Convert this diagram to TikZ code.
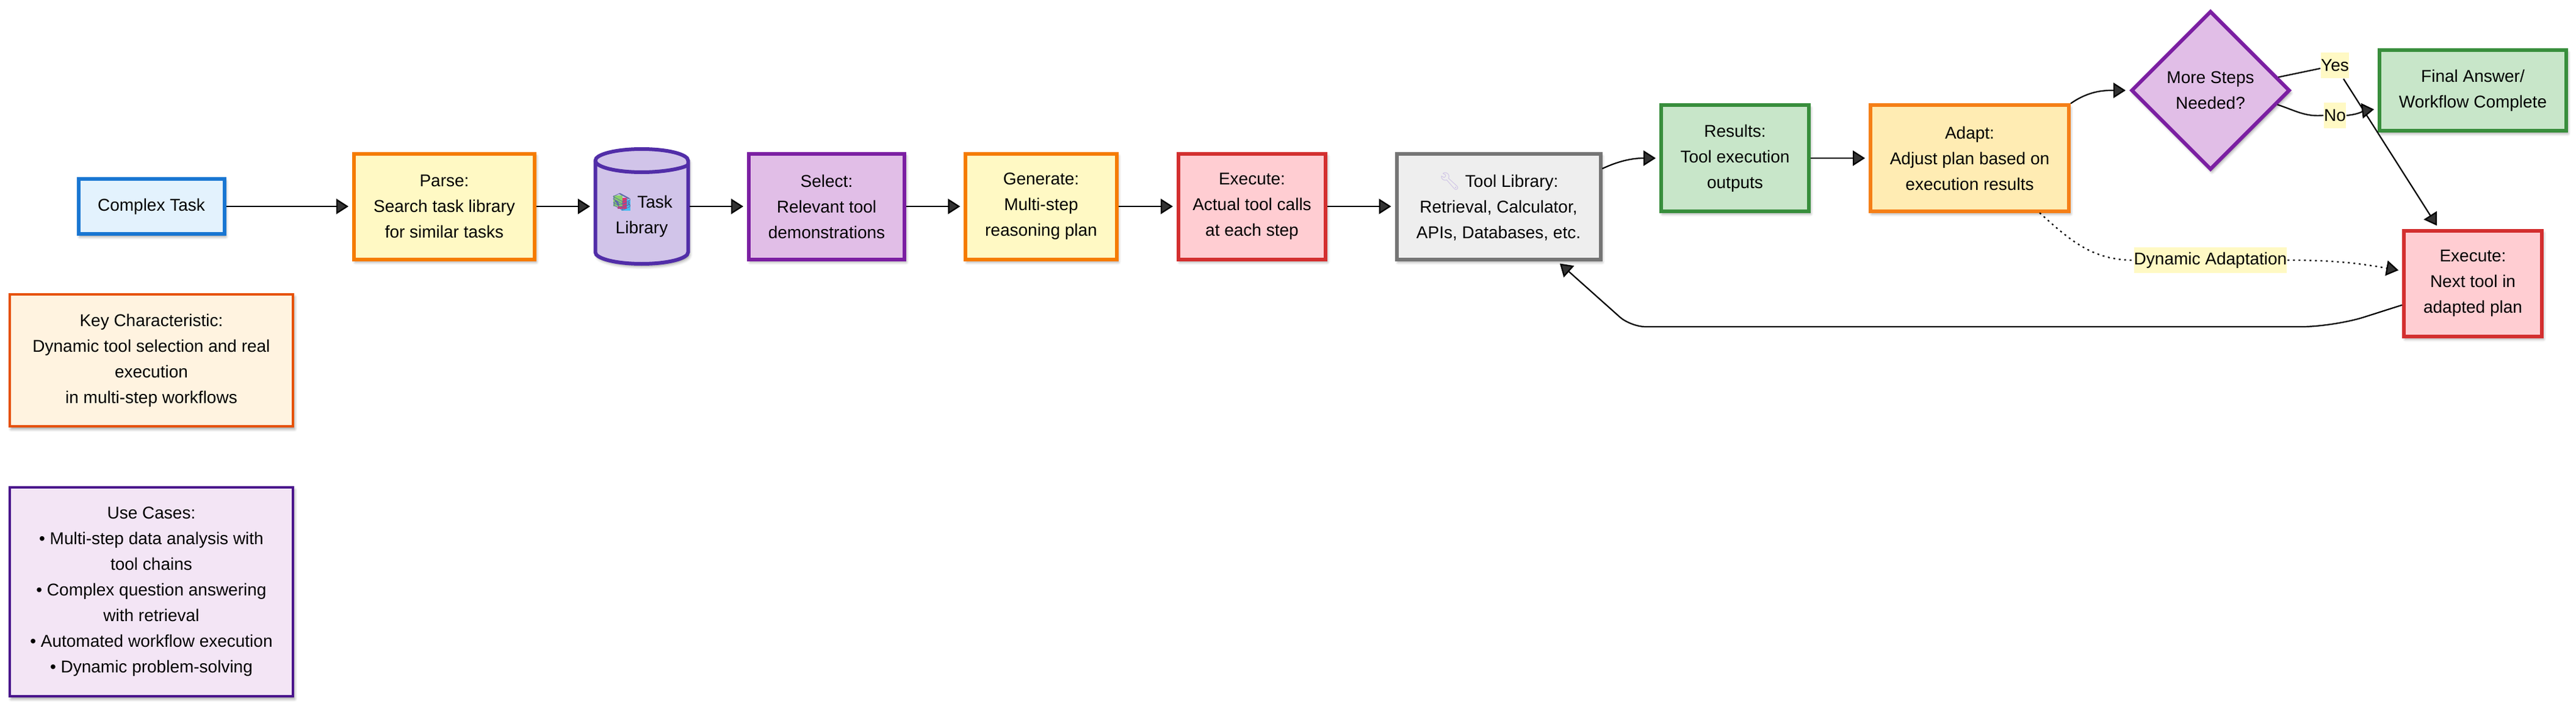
\documentclass[tikz,border=0pt]{standalone}
\usepackage{fontspec}
\setmainfont{Liberation Sans}
\newfontfamily\emojifont{Noto Emoji}
\usetikzlibrary{positioning, arrows.meta, shapes.geometric, shadows.blur}

\definecolor{taskfill}{HTML}{E3F2FD}    \definecolor{taskline}{HTML}{1976D2}
\definecolor{parsefill}{HTML}{FFF9C4}   \definecolor{parseline}{HTML}{F57C00}
\definecolor{libfill}{HTML}{D1C4E9}     \definecolor{libline}{HTML}{512DA8}
\definecolor{selectfill}{HTML}{E1BEE7}  \definecolor{selectline}{HTML}{7B1FA2}
\definecolor{execfill}{HTML}{FFCDD2}    \definecolor{execline}{HTML}{D32F2F}
\definecolor{toolfill}{HTML}{EEEEEE}    \definecolor{toolline}{HTML}{757575}
\definecolor{resfill}{HTML}{C8E6C9}     \definecolor{resline}{HTML}{388E3C}
\definecolor{adaptfill}{HTML}{FFECB3}   \definecolor{adaptline}{HTML}{F57F17}
\definecolor{keyfill}{HTML}{FFF3E0}     \definecolor{keyline}{HTML}{E65100}
\definecolor{usefill}{HTML}{F3E5F5}     \definecolor{useline}{HTML}{4A148C}
\definecolor{wrenchcol}{HTML}{CFC3E6}
\definecolor{bookgreen}{HTML}{8BD16A}   \definecolor{bookpink}{HTML}{E0336F}
\definecolor{bookblue}{HTML}{45BDF2}    \definecolor{bookedge}{HTML}{5C6BA8}

\tikzset{
    softshadow/.style={blur shadow={shadow xshift=1.2pt, shadow yshift=-2.2pt, shadow blur radius=2.5pt, shadow opacity=40}},
    flowbox/.style={draw, rectangle, line width=3pt, minimum height=86.5pt, inner sep=0pt, align=center,
        font=\fontsize{14}{21}\selectfont, softshadow},
    notebox/.style={flowbox, line width=2pt},
    flowlabel/.style={fill=parsefill, inner sep=0pt, minimum height=21pt, font=\fontsize{14}{21}\selectfont},
    canrim/.style={x radius=38pt, y radius=9.5pt}
}

\begin{document}
\begin{tikzpicture}[shorten >=3pt, on grid, >={Triangle[length=10pt, width=12.5pt]}, line width=1.1pt]
    \useasboundingbox (0,0) rectangle (2110.5pt,-578pt);
    \node[flowbox, fill=taskfill, draw=taskline, minimum width=119.5pt, minimum height=45pt] (task) at (124pt,-169pt) {Complex Task};
    \node[flowbox, fill=parsefill, draw=parseline, minimum width=148pt] (parse) [right=240pt of task] {Parse:\\Search task library\\for similar tasks};
    % the can is drawn by hand round an empty node
    \node[minimum width=78.6pt, minimum height=96.6pt, inner sep=0pt, outer sep=0pt] (lib) [right=161.75pt of parse] {};
    \draw[draw=libline, fill=libfill, line width=3pt, softshadow] ([shift={(-38pt,37.5pt)}]lib.center) arc[start angle=180, end angle=0, canrim]
        -- ([shift={(38pt,-37.5pt)}]lib.center) arc[start angle=0, end angle=-180, canrim] -- cycle;
    \draw[draw=libline, line width=3pt] ([shift={(-38pt,37.5pt)}]lib.center) arc[start angle=180, end angle=360, canrim];
    \foreach \bookcol/\bookx/\booky in {bookblue/-16.75/5.75, bookpink/-19.75/7.25, bookgreen/-23.25/9.25}
        \fill[\bookcol] ([shift={(\bookx pt,\booky pt)}]lib.center) rectangle ++(7.5pt,-9pt);
    \node[align=center, inner sep=0pt, font=\fontsize{14}{21}\selectfont] (libtext) [below=7.5pt of lib] {{\emojifont\color{bookedge} 📚} Task\\Library};
    \node[flowbox, fill=selectfill, draw=selectline, minimum width=127.5pt] (select) [right=151.5pt of lib] {Select:\\Relevant tool\\demonstrations};
    \node[flowbox, fill=parsefill, draw=parseline, minimum width=123.7pt] (generate) [right=175.75pt of select] {Generate:\\Multi-step\\reasoning plan};
    \node[flowbox, fill=execfill, draw=execline, minimum width=120.6pt] (exec) [right=172.75pt of generate] {Execute:\\Actual tool calls\\at each step};
    \node[flowbox, fill=toolfill, draw=toolline, minimum width=167pt] (tools) [right=202pt of exec] {{\emojifont\color{wrenchcol} 🔧} Tool Library:\\Retrieval, Calculator,\\APIs, Databases, etc.};
    \node[flowbox, fill=resfill, draw=resline, minimum width=121pt] (results) [above right=39.5pt and 193.75pt of tools] {Results:\\Tool execution\\outputs};
    \node[flowbox, fill=adaptfill, draw=adaptline, minimum width=162.5pt] (adapt) [right=192.25pt of results] {Adapt:\\Adjust plan based on\\execution results};
    \node[diamond, draw=selectline, fill=selectfill, line width=3pt, aspect=1, minimum width=130pt, minimum height=130pt, inner sep=0pt, align=center,
        font=\fontsize{14}{21}\selectfont, softshadow] (check) [above right=55.5pt and 197.25pt of adapt] {More Steps\\Needed?};
    \node[flowbox, fill=resfill, draw=resline, minimum width=153pt, minimum height=66pt] (final) [right=215pt of check] {Final Answer/\\Workflow Complete};
    \node[flowbox, fill=execfill, draw=execline, minimum width=113pt] (next) [below=158pt of final] {Execute:\\Next tool in\\adapted plan};
    \node[notebox, fill=keyfill, draw=keyline, minimum width=232pt, minimum height=108pt] (key) [below=126pt of task] {Key Characteristic:\\Dynamic tool selection and real\\execution\\in multi-step workflows};
    \node[notebox, fill=usefill, draw=useline, minimum width=232pt, minimum height=171pt] (uses) [below=189.5pt of key] {Use Cases:\\• Multi-step data analysis with\\tool chains\\• Complex question answering\\with retrieval\\• Automated workflow execution\\• Dynamic problem-solving};
    \coordinate (backright) at (1912pt,-267.5pt);
    \coordinate (backleft) at (1336pt,-267.5pt);

    \path[->]
        (task)      edge (parse)
        (parse)     edge (lib)
        (lib)       edge (select)
        (select)    edge (generate)
        (generate)  edge (exec)
        (exec)      edge (tools)
        (tools.20)  edge [out=25, in=180] (results)
        (results)   edge (adapt)
        (adapt.north east) edge [out=35, in=180] (check);
    \draw[->, rounded corners=26pt] (next.197) -- (backright) [rounded corners=12pt] -- (backleft) -- (tools.-43);

    \node[flowlabel] (yes) [above right=20.5pt and 102pt of check] {Yes};
    \node[flowlabel] (no) [below right=20.5pt and 102pt of check] {No};
    \node[flowlabel] (dyn) [below=139pt of check] {Dynamic Adaptation};
    \draw[shorten >=0pt] (check.11) -- (yes);
    \draw[->] (yes) -- (next.122);
    \draw[shorten >=0pt] (check.-12) to[out=-18, in=185] (no.west);
    \draw[->] (no.east) to[out=5, in=187] (final.191);
    \draw[dash pattern=on 1.5pt off 3pt, shorten >=0pt] (adapt.-38) to[out=-42, in=180] (dyn.west);
    \draw[->, dash pattern=on 1.5pt off 3pt] (dyn.east) to[out=0, in=170] (next.170);
\end{tikzpicture}
\end{document}
